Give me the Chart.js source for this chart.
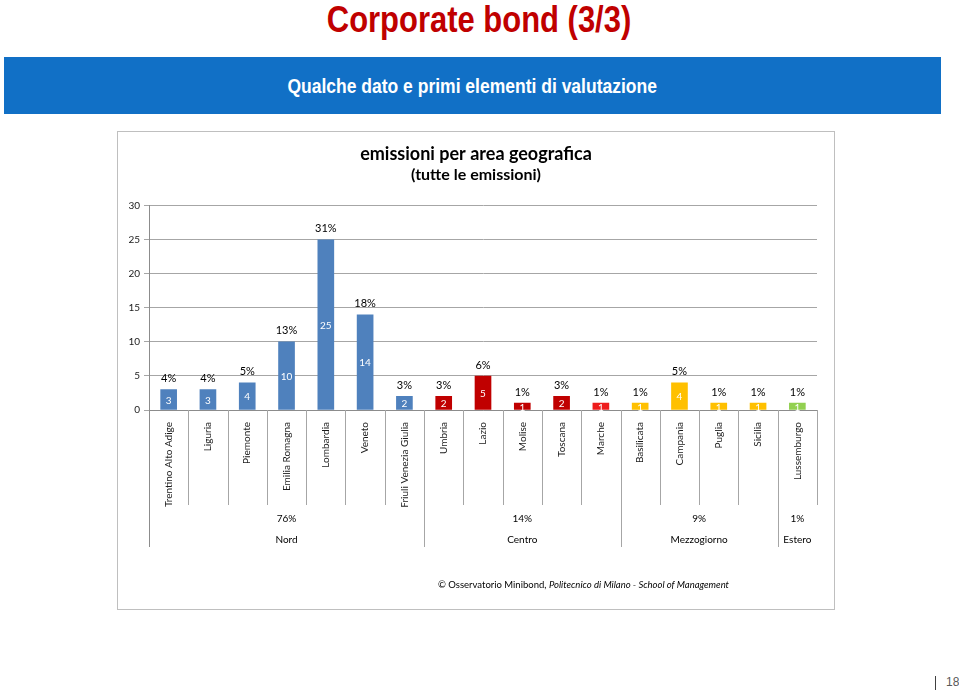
<!DOCTYPE html>
<html><head><meta charset="utf-8">
<script src="https://cdn.jsdelivr.net/npm/chart.js@4/dist/chart.umd.min.js"></script>
<style>
html,body{margin:0;padding:0;background:#fff;width:959px;height:691px;overflow:hidden;}
body{position:relative;font-family:"Liberation Sans",Arial,sans-serif;}
#title{position:absolute;left:0;width:959px;top:0;line-height:40px;text-align:center;}
#title span{display:inline-block;font-family:"Liberation Sans",Arial,sans-serif;font-weight:bold;font-size:36px;color:#C00000;transform:scaleX(0.86);transform-origin:center;}
#banner{position:absolute;left:4px;top:57px;width:937px;height:57px;background:#1170C6;text-align:center;line-height:58px;}
#banner span{display:inline-block;color:#fff;font-family:"Liberation Sans",Arial,sans-serif;font-weight:bold;font-size:20px;transform:scaleX(0.875);transform-origin:center;}
#box{position:absolute;left:117px;top:131px;width:716px;height:477px;border:1px solid #BFBFBF;background:#fff;}
#c{position:absolute;left:0;top:0;}
#credit{position:absolute;left:320px;top:446px;font-family:Lato,"Open Sans",sans-serif;font-size:9.5px;line-height:14px;color:#000;white-space:nowrap;}
#credit i{font-style:italic;}
#pnum{position:absolute;left:946px;top:675px;font-family:"Liberation Sans",Arial,sans-serif;font-size:12px;color:#595959;}
#pline{position:absolute;left:935px;top:676px;width:1px;height:14px;background:#404040;}
</style>
</head><body>
<div id="title"><span>Corporate bond (3/3)</span></div>
<div id="banner"><span>Qualche dato e primi elementi di valutazione</span></div>
<div id="box">
<canvas id="c" width="716" height="477"></canvas>
<div id="credit">© Osservatorio Minibond, <i>Politecnico di Milano - School of Management</i></div>
</div>
<div id="pline"></div>
<div id="pnum">18</div>
<script>
// ---- data ----
const regions = ["Trentino Alto Adige","Liguria","Piemonte","Emilia Romagna","Lombardia","Veneto","Friuli Venezia Giulia","Umbria","Lazio","Molise","Toscana","Marche","Basilicata","Campania","Puglia","Sicilia","Lussemburgo"];
const emissions = [3,3,4,10,25,14,2,2,5,1,2,1,1,4,1,1,1];
const shareLabels = ["4%","4%","5%","13%","31%","18%","3%","3%","6%","1%","3%","1%","1%","5%","1%","1%","1%"];
const areaNames = ["Nord","Centro","Mezzogiorno","Estero"];
const areaShares = ["76%","14%","9%","1%"];
const areaCounts = [7,5,4,1];
const yTicks = [0,5,10,15,20,25,30];

// ---- styles ----
const areaColors = ["#4F81BD","#C00000","#FFC000","#92D050"];
const regionColorOverride = {"Marche":"#EE1C1C"};
const regionArea = [];
areaCounts.forEach((n,a)=>{for(let k=0;k<n;k++) regionArea.push(a);});
const barColors = regions.map((r,i)=>regionColorOverride[r]||areaColors[regionArea[i]]);

const FONT = "Lato";
const overlay = {
  id:'overlay',
  afterDraw(chart){
    const ctx = chart.ctx, meta = chart.getDatasetMeta(0), xs = chart.scales.x, ca = chart.chartArea;
    ctx.save();
    ctx.textAlign='center'; ctx.textBaseline='middle';
    meta.data.forEach((bar,i)=>{
      ctx.fillStyle='#ffffff'; ctx.font='10px '+FONT;
      ctx.fillText(String(emissions[i]), bar.x, (bar.y+bar.base)/2+1);
      ctx.fillStyle='#000000'; ctx.font='11px '+FONT;
      ctx.fillText(shareLabels[i], bar.x, bar.y-11);
    });
    // separators
    const step = xs.getPixelForValue(1)-xs.getPixelForValue(0);
    const left = xs.getPixelForValue(0)-step/2;
    const bounds = []; let acc=0; areaCounts.forEach(n=>{acc+=n; bounds.push(acc);});
    ctx.strokeStyle='#A6A6A6'; ctx.lineWidth=1;
    for(let k=1;k<=regions.length;k++){
      const xp = Math.round(left+k*step)+0.5;
      const long = bounds.includes(k) && k<regions.length;
      ctx.beginPath(); ctx.moveTo(xp, ca.bottom); ctx.lineTo(xp, ca.bottom+(long?137:95)); ctx.stroke();
    }
    ctx.strokeStyle='#8C8C8C';
    ctx.beginPath(); ctx.moveTo(Math.round(ca.left)+0.5, ca.bottom); ctx.lineTo(Math.round(ca.left)+0.5, ca.bottom+137); ctx.stroke();
    // group labels
    ctx.fillStyle='#000'; ctx.font='10px '+FONT;
    let start=0;
    areaCounts.forEach((n,a)=>{
      const cx = left + (start + n/2)*step;
      ctx.fillText(areaShares[a], cx, ca.bottom+109);
      ctx.fillText(areaNames[a], cx, ca.bottom+130);
      start+=n;
    });
    ctx.restore();
  }
};

Chart.defaults.font.family = FONT;
new Chart(document.getElementById('c'), {
  type:'bar',
  data:{labels:regions, datasets:[{data:emissions, backgroundColor:barColors, barThickness:16}]},
  options:{
    responsive:false, animation:false, devicePixelRatio:1,
    layout:{padding:{left:0,right:0,top:0,bottom:67}},
    plugins:{
      legend:{display:false}, tooltip:{enabled:false},
      title:{display:true, text:"emissioni per area geografica", color:'#000', font:{size:18,weight:'bold',family:FONT}, padding:{top:11,bottom:1}},
      subtitle:{display:true, text:"(tutte le emissioni)", color:'#000', font:{size:16,weight:'bold',family:FONT}, padding:{top:0,bottom:21}}
    },
    scales:{
      x:{
        grid:{display:false},
        border:{display:true,color:'#8C8C8C'},
        ticks:{autoSkip:false,minRotation:90,maxRotation:90,padding:4,color:'#1a1a1a',font:{size:10,family:FONT}},
        afterFit(s){s.height=132;}
      },
      y:{
        min:0,max:30,
        afterBuildTicks(s){s.ticks = yTicks.map(v=>({value:v}));},
        grid:{color:'#A6A6A6',tickLength:5},
        border:{display:true,color:'#8C8C8C'},
        ticks:{padding:4,color:'#1a1a1a',font:{size:10,family:FONT}},
        afterFit(s){s.width=31;}
      },
      yRight:{
        position:'right', display:true, min:0, max:30,
        grid:{display:false}, border:{display:false}, ticks:{display:false},
        afterFit(s){s.width=17;}
      }
    }
  },
  plugins:[overlay]
});
</script>
</body></html>
